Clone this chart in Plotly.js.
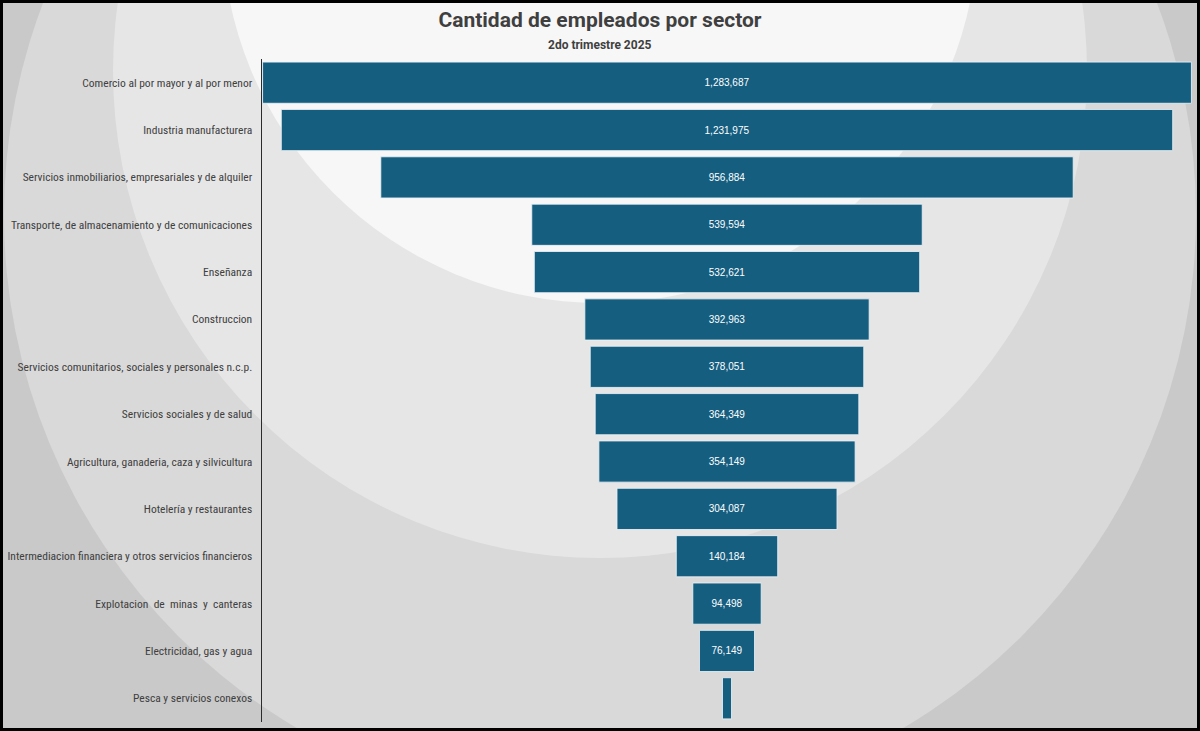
<!DOCTYPE html>
<html>
<head>
<meta charset="utf-8">
<script src="https://cdn.plot.ly/plotly-3.0.1.min.js"></script>
<style>html,body{margin:0;padding:0;background:#c9c9c9;}#chart{width:1200px;height:731px;}</style>
</head>
<body>
<div id="chart"></div>
<script>
var sectores = [
  "Comercio al por mayor y al por menor",
  "Industria manufacturera",
  "Servicios inmobiliarios, empresariales y de alquiler",
  "Transporte, de almacenamiento y de comunicaciones",
  "Enseñanza",
  "Construccion",
  "Servicios comunitarios, sociales y personales n.c.p.",
  "Servicios sociales y de salud",
  "Agricultura, ganaderia, caza y silvicultura",
  "Hotelería y restaurantes",
  "Intermediacion financiera y otros servicios financieros",
  "Explotacion  de  minas  y  canteras",
  "Electricidad, gas y agua",
  "Pesca y servicios conexos"
];
var empleados = [1283687, 1231975, 956884, 539594, 532621, 392963, 378051, 364349, 354149, 304087, 140184, 94498, 76149, 12500];

var W = 1200, H = 731;
var M = {l: 262, r: 8, t: 59, b: 9};
var pw = W - M.l - M.r, ph = H - M.t - M.b;
function px(x) { return (x - M.l) / pw; }
function py(y) { return (H - M.b - y) / ph; }
function circle(cx, cy, r, color) {
  return {type: 'circle', xref: 'paper', yref: 'paper', layer: 'below',
    x0: px(cx - r), x1: px(cx + r), y0: py(cy + r), y1: py(cy - r),
    fillcolor: color, line: {width: 0}};
}

var maxV = Math.max.apply(null, empleados);

var trace = {
  type: 'funnel',
  y: sectores,
  x: empleados,
  orientation: 'h',
  texttemplate: '%{value:,}',
  textposition: 'inside',
  insidetextanchor: 'middle',
  textfont: {family: 'Liberation Sans, Arial, sans-serif', size: 10, color: '#ffffff'},
  marker: {color: '#155e80', line: {color: 'rgba(235,242,246,0.85)', width: 1}},
  connector: {visible: false},
  hoverinfo: 'y+x'
};

var layout = {
  width: W, height: H,
  margin: M,
  paper_bgcolor: '#c9c9c9',
  plot_bgcolor: 'rgba(0,0,0,0)',
  showlegend: false,
  funnelgap: 0.13,
  uniformtext: {mode: 'hide', minsize: 10},
  title: {
    text: 'Cantidad de empleados por sector',
    font: {family: 'Roboto, Arial, sans-serif', size: 21, color: '#3f3f3f', weight: 700},
    x: 0.5, xanchor: 'center', xref: 'container',
    y: 1 - 12 / H, yanchor: 'top', yref: 'container'
  },
  annotations: [{
    text: '2do trimestre 2025', showarrow: false,
    xref: 'paper', yref: 'paper', x: px(600), y: py(45), xanchor: 'center', yanchor: 'middle',
    font: {family: 'Roboto, Arial, sans-serif', size: 12, color: '#3f3f3f', weight: 700}
  }],
  xaxis: {visible: false, range: [-maxV / 2 - 800, maxV / 2 + 800], fixedrange: true},
  yaxis: {
    showline: true, linecolor: '#2b2b2b', linewidth: 1.5,
    showgrid: false, zeroline: false, ticks: '',
    ticklabelstandoff: 6,
    tickfont: {family: '"Liberation Sans Narrow", "Roboto Condensed", "Arial Narrow", Roboto, sans-serif', size: 11.5, color: '#404040'}
  },
  shapes: [
    circle(600, 215, 596, '#d9d9d9'),
    circle(600, 71, 487, '#e6e6e6'),
    circle(600, -75, 378, '#f7f7f7'),
    {type: 'rect', xref: 'paper', yref: 'paper', layer: 'above',
     x0: px(1.5), x1: px(W - 1.5), y0: py(H - 1.5), y1: py(1.5),
     line: {color: '#000000', width: 3}, fillcolor: 'rgba(0,0,0,0)'}
  ]
};

Plotly.newPlot('chart', [trace], layout, {displayModeBar: false, staticPlot: true});
</script>
</body>
</html>
